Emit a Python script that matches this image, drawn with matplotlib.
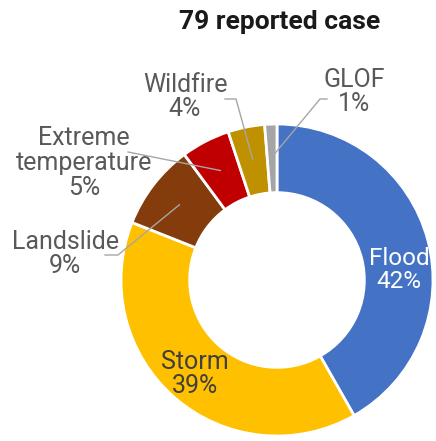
import numpy as np
import matplotlib
matplotlib.use("Agg")
import matplotlib.pyplot as plt

plt.rcParams['font.family'] = ['Roboto', 'DejaVu Sans']

# --- данные ---
labels = ["Flood", "Storm", "Landslide", "Extreme\ntemperature", "Wildfire", "GLOF"]
counts = [33, 31, 7, 4, 3, 1]          # 79 случаев
pct_text = ["42%", "39%", "9%", "5%", "4%", "1%"]
colors = ["#4472C4", "#FFC000", "#843C0C", "#C00000", "#BF9000", "#A5A5A5"]
title = "79 reported case"

# --- фигура: центр кольца в пикселях (277, 280), радиус 156 px ---
W, H = 436, 441
cx, cy, R = 277, 280, 156
fig = plt.figure(figsize=(W / 100, H / 100), dpi=100)
ax = fig.add_axes([0, 0, 1, 1])


def px(x, y):
    # пиксели картинки -> координаты осей
    return (x - cx) / R, (cy - y) / R


wedges, _ = ax.pie(counts, colors=colors, startangle=90, counterclock=False,
                   radius=1.0, wedgeprops=dict(width=0.44, edgecolor='white', linewidth=2))
ax.set_xlim(-cx / R, (W - cx) / R)
ax.set_ylim(-(H - cy) / R, cy / R)
ax.axis('off')

gray = "#595959"
line_c = "#a6a6a6"
fs = 18

# подписи внутри кольца
ax.text(*px(399, 270), f"{labels[0]}\n{pct_text[0]}", ha='center', va='center',
        color='white', fontsize=17.5, linespacing=1.05)
ax.text(*px(195, 374), f"{labels[1]}\n{pct_text[1]}", ha='center', va='center',
        color='#404040', fontsize=fs, linespacing=1.05)

# внешние подписи с выносками: (индекс, позиция текста, точки излома линии)
outside = [
    (2, (65, 254), [(105, 255), (118, 255)]),
    (3, (84, 163), [(128, 152)]),
    (4, (185, 97), [(225, 99), (236, 99)]),
    (5, (354, 92), [(327, 99), (320, 99)]),
]
cum = np.cumsum([0] + counts) / sum(counts)
for i, tpos, knees in outside:
    ax.text(*px(*tpos), f"{labels[i]}\n{pct_text[i]}", ha='center', va='center',
            color=gray, fontsize=fs, linespacing=1.05)
    mid = 90 - 360 * (cum[i] + cum[i + 1]) / 2
    end = (0.79 * np.cos(np.radians(mid)), 0.79 * np.sin(np.radians(mid)))
    pts = [px(*k) for k in knees] + [end]
    ax.plot([p[0] for p in pts], [p[1] for p in pts], color=line_c, lw=1, zorder=5)

ax.text(*px(280, 22), title, ha='center', va='center', fontsize=19,
        fontweight='bold', color='#1a1a1a')

fig.savefig("out.png", dpi=100)
